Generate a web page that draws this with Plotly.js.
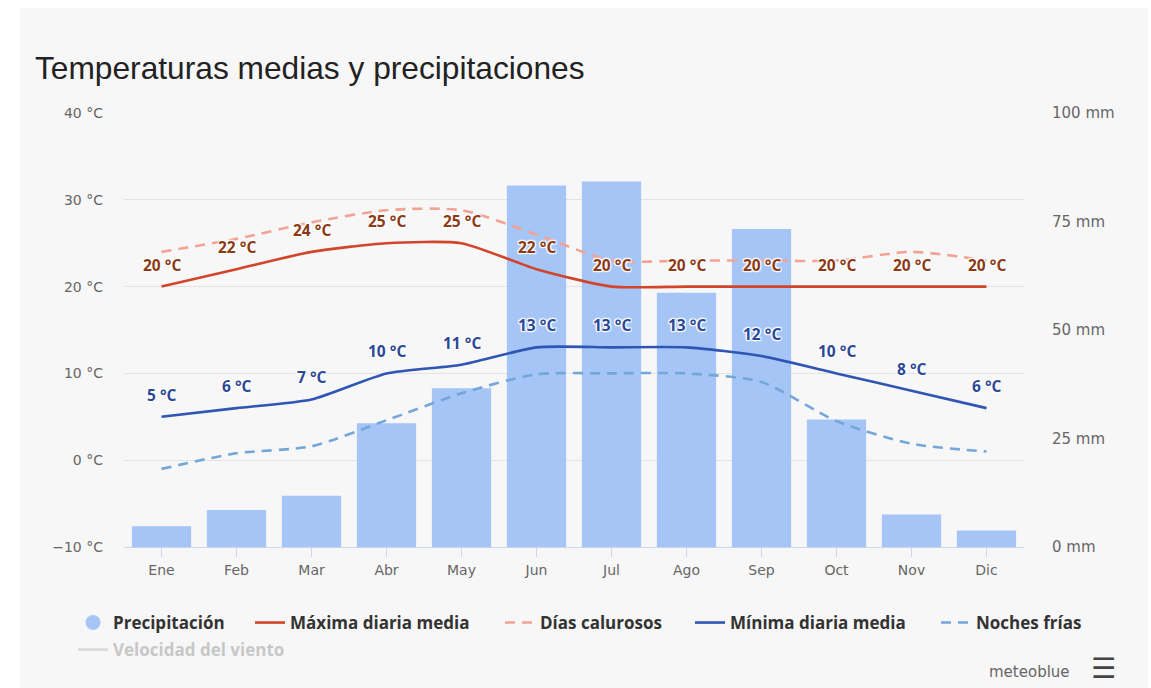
<!DOCTYPE html>
<html>
<head>
<meta charset="utf-8">
<script src="https://cdn.plot.ly/plotly-3.0.1.min.js"></script>
<style>
  html, body { margin: 0; padding: 0; background: #ffffff; width: 1151px; height: 688px; overflow: hidden; }
  #chart { position: absolute; left: 20px; top: 8px; width: 1128px; height: 680px; }
</style>
</head>
<body>
<div id="chart"></div>
<script>
// ---- data ----
const months = ["Ene","Feb","Mar","Abr","May","Jun","Jul","Ago","Sep","Oct","Nov","Dic"];
const precipitation = [4.8, 8.5, 11.8, 28.5, 36.6, 83.3, 84.2, 58.6, 73.3, 29.4, 7.5, 3.8];
const maxTemp = [20, 22, 24, 25, 25, 22, 20, 20, 20, 20, 20, 20];
const hotDays = [24, 25.5, 27.4, 28.8, 28.8, 26, 23, 23, 23, 23, 24, 23];
const minTemp = [5, 6, 7, 10, 11, 13, 13, 13, 12, 10, 8, 6];
const coldNights = [-1, 0.8, 1.6, 4.6, 7.7, 9.9, 10, 10, 9, 4.5, 1.9, 1.0];
const tempTicks = [-10, 0, 10, 20, 30, 40];
const tempTickText = ["\u221210 \u00b0C", "0 \u00b0C", "10 \u00b0C", "20 \u00b0C", "30 \u00b0C", "40 \u00b0C"];
const precTicks = [0, 25, 50, 75, 100];
const precTickText = ["0 mm", "25 mm", "50 mm", "75 mm", "100 mm"];

const labelShadow = "1px 1px 1px #fff, -1px -1px 1px #fff, 1px -1px 1px #fff, -1px 1px 1px #fff, 0 0 3px #fff";

const traces = [
  {
    type: "bar", x: months, y: precipitation, yaxis: "y",
    name: "Precipitación", showlegend: false,
    marker: { color: "#a4c5f6" }, width: 0.79, hoverinfo: "skip"
  },
  {
    type: "scatter", mode: "markers", x: [null], y: [null], yaxis: "y",
    name: "Precipitación", legend: "legend",
    marker: { color: "#a4c5f6", size: 15, symbol: "circle" }
  },
  {
    type: "scatter", mode: "lines", x: months, y: maxTemp, yaxis: "y2",
    name: "Máxima diaria media", legend: "legend2",
    line: { color: "#d2452b", width: 2.6, shape: "spline", smoothing: 0.6 }
  },
  {
    type: "scatter", mode: "lines", x: months, y: hotDays, yaxis: "y2",
    name: "Días calurosos", legend: "legend3",
    line: { color: "#f3a396", width: 2.6, shape: "spline", smoothing: 0.7, dash: "10px,7px" }
  },
  {
    type: "scatter", mode: "lines", x: months, y: minTemp, yaxis: "y2",
    name: "Mínima diaria media", legend: "legend4",
    line: { color: "#2f55b5", width: 2.6, shape: "spline", smoothing: 0.6 }
  },
  {
    type: "scatter", mode: "lines", x: months, y: coldNights, yaxis: "y2",
    name: "Noches frías", legend: "legend5",
    line: { color: "#75a6da", width: 2.6, shape: "spline", smoothing: 0.7, dash: "10px,7px" }
  },
  {
    type: "scatter", mode: "lines", x: [null], y: [null], yaxis: "y2",
    name: "Velocidad del viento", visible: "legendonly", legend: "legend6",
    line: { color: "#bbbbbb", width: 2.6 }
  }
];

const annotations = [];
months.forEach((m, i) => {
  annotations.push({
    x: m, y: maxTemp[i], xref: "x", yref: "y2", yshift: 22, showarrow: false,
    text: maxTemp[i] + " \u00b0C",
    font: { family: "Open Sans, sans-serif", size: 15.5, weight: 700, color: "#8c3a16", shadow: labelShadow }
  });
  annotations.push({
    x: m, y: minTemp[i], xref: "x", yref: "y2", yshift: 22, showarrow: false,
    text: minTemp[i] + " \u00b0C",
    font: { family: "Open Sans, sans-serif", size: 15.5, weight: 700, color: "#2c4795", shadow: labelShadow }
  });
});
annotations.push({
  x: 1.053, y: -0.288, xref: "paper", yref: "paper", xanchor: "right", yanchor: "middle",
  showarrow: false, text: "meteoblue",
  font: { family: "DejaVu Sans, sans-serif", size: 15, color: "#666666" }
});
annotations.push({
  x: 1.072, y: -0.281, xref: "paper", yref: "paper", xanchor: "left", yanchor: "middle",
  showarrow: false, text: "\u2630",
  font: { family: "DejaVu Sans, sans-serif", size: 28, weight: 700, color: "#444444" }
});

// legend placement helper (div px -> paper)
const plotL = 104, plotT = 105, plotW = 900, plotH = 434;
function legendAt(divX, divTop, color) {
  return {
    orientation: "h", xanchor: "left", yanchor: "top",
    x: (divX - plotL) / plotW, y: 1 - (divTop - plotT) / plotH,
    font: { family: "Open Sans, sans-serif", size: 17, weight: 700, color: color || "#333333" },
    bgcolor: "rgba(0,0,0,0)", itemclick: false, itemdoubleclick: false
  };
}

const layout = {
  width: 1128, height: 680,
  paper_bgcolor: "#f7f7f7", plot_bgcolor: "rgba(0,0,0,0)",
  margin: { l: plotL, r: 1128 - plotL - plotW, t: plotT, b: 680 - plotT - plotH },
  title: {
    text: "Temperaturas medias y precipitaciones",
    x: 0.0133, xanchor: "left", xref: "container",
    y: 0.912, yanchor: "middle", yref: "container",
    font: { family: "Liberation Sans, Arial, sans-serif", size: 31.7, color: "#222222" }
  },
  hovermode: false,
  showlegend: true,
  legend: legendAt(53, 597),
  legend2: legendAt(230, 597),
  legend3: legendAt(480, 597),
  legend4: legendAt(670, 597),
  legend5: legendAt(916, 597),
  legend6: legendAt(53, 624, "#999999"),
  xaxis: {
    type: "category", range: [-0.5, 11.5],
    showgrid: false, showline: true, linecolor: "#ccd6eb", linewidth: 1,
    ticks: "outside", ticklen: 9, tickcolor: "#ccd6eb",
    tickfont: { family: "DejaVu Sans, sans-serif", size: 14, color: "#666666" },
    ticklabelstandoff: 1, fixedrange: true
  },
  yaxis: {
    side: "right", range: [0, 100], tickvals: precTicks, ticktext: precTickText,
    showgrid: false, zeroline: false, showline: false,
    tickfont: { family: "DejaVu Sans, sans-serif", size: 15, color: "#666666" },
    ticklabelstandoff: 27, fixedrange: true
  },
  yaxis2: {
    overlaying: "y", side: "left", range: [-10, 40], tickvals: tempTicks, ticktext: tempTickText,
    showgrid: true, gridcolor: "#e3e3e3", gridwidth: 1, zeroline: false, showline: false,
    tickfont: { family: "DejaVu Sans, sans-serif", size: 14, color: "#666666" },
    ticklabelstandoff: 20, fixedrange: true
  },
  annotations: annotations
};

Plotly.newPlot("chart", traces, layout, { displayModeBar: false, responsive: false });
</script>
</body>
</html>
